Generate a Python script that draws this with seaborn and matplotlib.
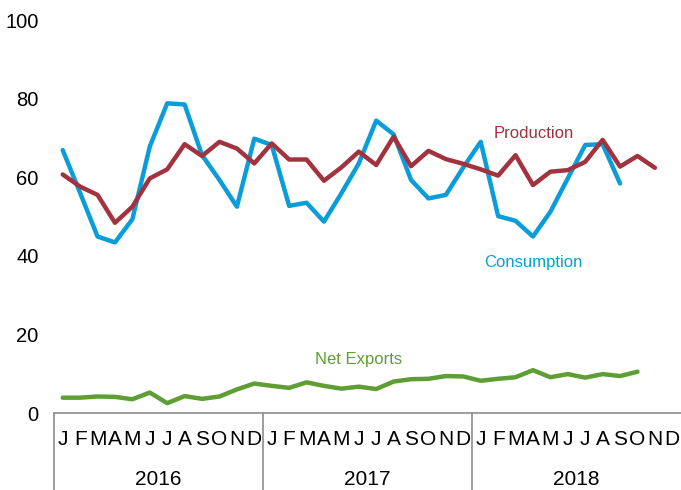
import numpy as np
import pandas as pd
import matplotlib
matplotlib.use("Agg")
import matplotlib.pyplot as plt
import matplotlib.transforms as mtransforms
import seaborn as sns

# monthly values, Jan 2016 - Dec 2018
months = list("JFMAMJJASOND") * 3
years = ["2016", "2017", "2018"]

production = [60.7, 57.6, 55.5, 48.4, 52.5, 59.7, 62.0, 68.4, 65.4, 69.0, 67.3, 63.5,
              68.6, 64.5, 64.5, 59.1, 62.5, 66.5, 63.1, 70.3, 62.8, 66.7, 64.6, 63.4,
              62.0, 60.4, 65.6, 58.0, 61.4, 61.8, 63.9, 69.5, 62.7, 65.4, 62.4, np.nan]
consumption = [66.9, 56.0, 44.9, 43.4, 49.3, 67.8, 78.8, 78.5, 65.6, 59.3, 52.5, 69.8,
               68.2, 52.7, 53.5, 48.7, 55.9, 63.5, 74.4, 70.9, 59.3, 54.6, 55.5, 62.5,
               69.0, 50.1, 48.9, 44.9, 51.2, 59.7, 68.2, 68.4, 58.4, np.nan, np.nan, np.nan]
net_exports = [3.9, 3.9, 4.2, 4.1, 3.5, 5.2, 2.5, 4.3, 3.6, 4.2, 6.0, 7.5,
               6.9, 6.4, 7.8, 6.9, 6.2, 6.7, 6.1, 8.0, 8.6, 8.7, 9.4, 9.3,
               8.2, 8.7, 9.1, 10.9, 9.1, 9.9, 9.0, 9.9, 9.4, 10.5, np.nan, np.nan]

red = "#A3323F"
blue = "#0A9DD9"
green = "#5E9E34"

sns.set_style("white")
plt.rcParams["font.family"] = ["Liberation Sans", "DejaVu Sans"]
plt.rcParams["text.color"] = "black"
plt.rcParams["xtick.labelcolor"] = "black"
plt.rcParams["ytick.labelcolor"] = "black"

df = pd.DataFrame({"idx": np.arange(36), "Production": production,
                   "Consumption": consumption, "Net Exports": net_exports})

fig = plt.figure(figsize=(6.81, 4.90), dpi=100)
ax = fig.add_axes([54 / 681, 1 - 413 / 490, 627 / 681, 393 / 490])

sns.lineplot(data=df, x="idx", y="Consumption", color=blue, lw=3.2, ax=ax)
sns.lineplot(data=df, x="idx", y="Production", color=red, lw=3.2, ax=ax)
sns.lineplot(data=df, x="idx", y="Net Exports", color=green, lw=3.2, ax=ax)

ax.set_xlim(-0.5, 35.5)
ax.set_ylim(0, 100)
ax.set_xlabel("")
ax.set_ylabel("")
ax.set_yticks(range(0, 101, 20))
ax.set_xticks(range(36))
ax.set_xticklabels(months)
ax.tick_params(axis="y", length=0, labelsize=14.5, pad=11)
ax.tick_params(axis="x", direction="in", length=5, width=1, color="#8c8c8c",
               labelsize=15, pad=12)

for s in ["left", "right", "top"]:
    ax.spines[s].set_visible(False)
ax.spines["bottom"].set_color("#8c8c8c")
ax.spines["bottom"].set_linewidth(1.2)

# year separators and labels
trans = mtransforms.blended_transform_factory(ax.transData, ax.transAxes)
for xs in [-0.5, 11.5, 23.5]:
    ax.plot([xs, xs], [0, -0.25], transform=trans, color="#8c8c8c", lw=1.2, clip_on=False)
for i, yr in enumerate(years):
    ax.text(5.5 + 12 * i, -0.168, yr, transform=trans, ha="center", va="center", fontsize=15)

# series labels
ax.text(27.05, 71.2, "Production", color=red, fontsize=12, ha="center", va="center")
ax.text(27.0, 38.2, "Consumption", color=blue, fontsize=12, ha="center", va="center")
ax.text(17.0, 13.5, "Net Exports", color=green, fontsize=12, ha="center", va="center")

fig.savefig("out.png", dpi=100)
